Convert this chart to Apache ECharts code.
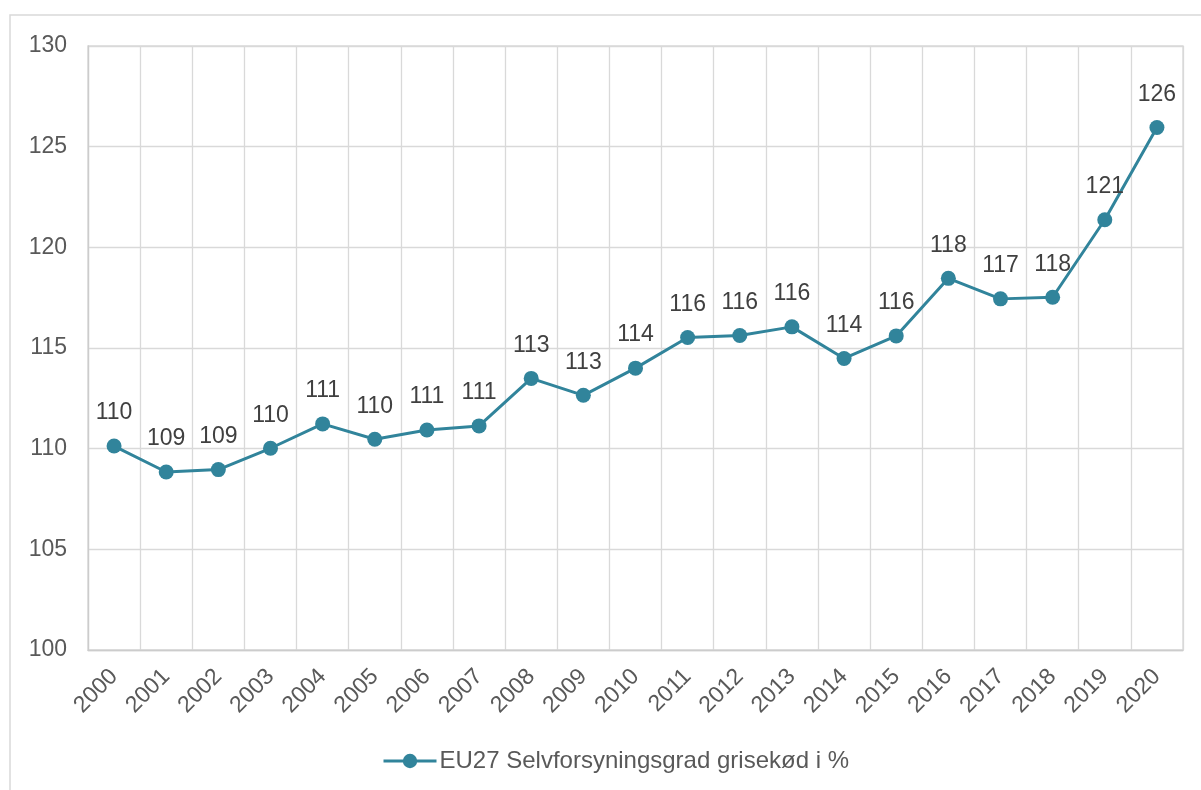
<!DOCTYPE html>
<html>
<head>
<meta charset="utf-8">
<script src="https://cdn.jsdelivr.net/npm/echarts@6/dist/echarts.min.js"></script>
<style>
html,body{margin:0;padding:0;background:#fff;}
#c{width:1201px;height:790px;}
</style>
</head>
<body>
<div id="c"></div>
<script>
const years = ['2000','2001','2002','2003','2004','2005','2006','2007','2008','2009','2010','2011','2012','2013','2014','2015','2016','2017','2018','2019','2020'];
const values = [110.13,108.84,108.96,110.02,111.23,110.47,110.93,111.13,113.49,112.65,114.0,115.52,115.62,116.05,114.48,115.6,118.46,117.44,117.52,121.37,125.95];
const seriesName = 'EU27 Selvforsyningsgrad grisekød i %';
const yMin = 100, yMax = 130, yStep = 5;

const color = '#31849B';
const font = '"Liberation Sans", Arial, sans-serif';
const chart = echarts.init(document.getElementById('c'), null, {renderer:'canvas'});
chart.setOption({
  animation:false,
  backgroundColor:'#fff',
  graphic:[{type:'rect', shape:{x:10,y:15,width:1400,height:1000}, style:{fill:'none', stroke:'#d9d9d9', lineWidth:1.5}, silent:true, z:-1}],
  grid:{left:88, right:18, top:46, bottom:140, show:true, borderColor:'#d9d9d9', borderWidth:1.3, backgroundColor:'transparent'},
  legend:{
    left:382, top:749, padding:0, itemWidth:53, itemHeight:18, itemGap:10,
    lineStyle:{width:3},
    textStyle:{fontFamily:font, fontSize:24, color:'#595959', padding:[0,0,0,-2]},
    data:[seriesName]
  },
  xAxis:{
    type:'category', data:years, boundaryGap:true,
    axisLine:{show:true, lineStyle:{color:'#cccccc', width:1.3}},
    axisTick:{show:false},
    splitLine:{show:true, lineStyle:{color:'#d9d9d9', width:1.3}},
    axisLabel:{rotate:45, margin:23, fontFamily:font, fontSize:23, color:'#595959', interval:0}
  },
  yAxis:{
    type:'value', min:yMin, max:yMax, interval:yStep,
    axisLine:{show:true, lineStyle:{color:'#cccccc', width:1.3}},
    axisTick:{show:false},
    splitLine:{show:true, lineStyle:{color:'#d9d9d9', width:1.3}},
    axisLabel:{margin:21, fontFamily:font, fontSize:23, color:'#595959'}
  },
  series:[{
    name:seriesName, type:'line', data:values,
    symbol:'circle', symbolSize:15,
    lineStyle:{color:color, width:3},
    itemStyle:{color:color},
    label:{show:true, position:'top', distance:14, fontFamily:font, fontSize:23, color:'#404040',
      formatter:p=>Math.round(p.value)}
  }]
});
</script>
</body>
</html>
